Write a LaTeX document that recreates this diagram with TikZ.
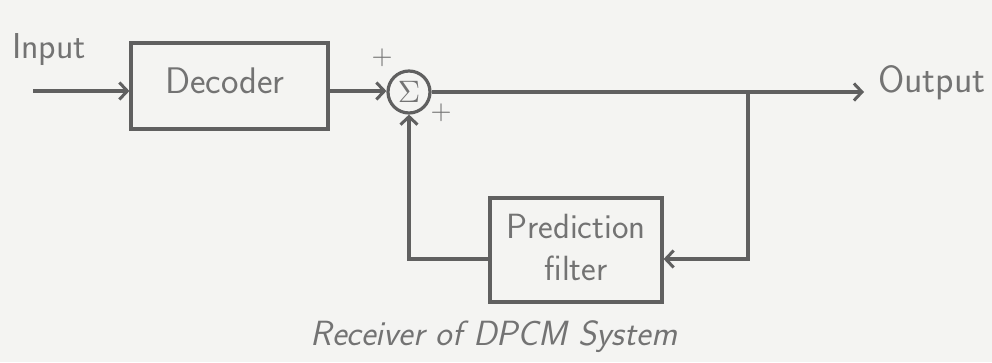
\documentclass[tikz,border=0pt]{standalone}
\usetikzlibrary{arrows.meta}
\definecolor{ln}{RGB}{96,96,96}
\definecolor{tx}{RGB}{115,115,115}
\definecolor{bg}{RGB}{244,244,242}
\begin{document}
\begin{tikzpicture}[x=1pt,y=-1pt,
  wire/.style={draw=ln,line width=3.2pt},
  arr/.style={wire,-{Straight Barb[length=8pt,width=17pt,line width=3pt]}},
  blk/.style={draw=ln,line width=3.2pt,rectangle,inner sep=0pt},
  lbl/.style={text=tx,font=\sffamily,inner sep=0pt}]
\fill[bg] (0,0) rectangle (992,362);
\useasboundingbox (0,0) rectangle (992,362);
% blocks
\node[blk,minimum width=197pt,minimum height=86pt] (dec) at (229.5,86) {};
\node[lbl,font=\sffamily\fontsize{37}{40}\selectfont,anchor=base] (dect) at (225,93) {Decoder};
\node[draw=ln,line width=3.2pt,circle,minimum size=42pt,inner sep=0pt] (sum) at (409,92) {};
\node[text=tx,inner sep=0pt] (sig) at (409,92) {\scalebox{3.1}{$\Sigma$}};
\node[blk,minimum width=172pt,minimum height=104pt] (pred) at (576,250) {};
\node[lbl,font=\sffamily\fontsize{35}{42}\selectfont,anchor=base] (pt1) at (576,238) {Prediction};
\node[lbl,font=\sffamily\fontsize{35}{42}\selectfont,anchor=base] (pt2) at (576,280) {filter};
% labels
\node[lbl,font=\sffamily\fontsize{36}{40}\selectfont,anchor=base west] (inl) at (12,58) {Input};
\node[lbl,font=\sffamily\fontsize{38}{42}\selectfont,anchor=base west] (outl) at (878,92) {Output};
\node[lbl,font=\sffamily\itshape\fontsize{35}{38}\selectfont,anchor=base] (cap) at (494,345) {Receiver of DPCM System};
\node[text=tx,inner sep=0pt] (p1) at (382,58) {\scalebox{2.7}{$+$}};
\node[text=tx,inner sep=0pt] (p2) at (441,113) {\scalebox{2.7}{$+$}};
% coordinates
\coordinate (in0) at (33,91);
\coordinate (tail) at (864,92);
\coordinate (br) at (748,92);
\coordinate (brd) at (748,259);
\coordinate (fbl) at (409,259);
% connectors
\draw[arr] (in0) -- (in0 -| dec.west);
\draw[arr] (dec.east |- in0) -- (sum.west |- in0);
\draw[arr] (sum.east) -- (tail);
\draw[arr] (br) -- (brd) -- (brd -| pred.east);
\draw[arr] (pred.west |- fbl) -- (fbl) -- (sum.south);
\end{tikzpicture}
\end{document}
